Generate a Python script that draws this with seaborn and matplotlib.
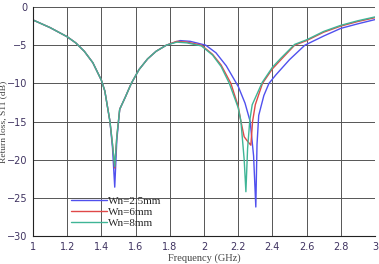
import numpy as np
import pandas as pd
import matplotlib
matplotlib.use("Agg")
import matplotlib.pyplot as plt
import seaborn as sns

# Frequency (GHz) and return loss S11 (dB)
freq_blue = [1.0, 1.05, 1.1, 1.15, 1.2, 1.25, 1.3, 1.35, 1.4, 1.42, 1.45, 1.465, 1.478, 1.49, 1.507, 1.54,
             1.575, 1.62, 1.67, 1.72, 1.78, 1.86, 1.92, 2.01, 2.07, 2.13, 2.2, 2.24, 2.27, 2.29, 2.303,
             2.31, 2.32, 2.35, 2.38, 2.42, 2.5, 2.59, 2.7, 2.8, 2.9, 3.0]
s11_blue = [-1.7, -2.2, -2.7, -3.3, -3.9, -4.7, -5.8, -7.3, -9.6, -11.0, -15.0, -18.5, -23.6, -17.5, -13.4, -11.8,
            -10.0, -8.2, -6.8, -5.8, -5.0, -4.4, -4.5, -5.0, -6.0, -7.7, -10.4, -12.6, -15.0, -19.5, -26.2,
            -18.0, -14.2, -11.6, -10.0, -8.9, -6.9, -5.0, -3.8, -2.8, -2.2, -1.65]

freq_red = [1.0, 1.05, 1.1, 1.15, 1.2, 1.25, 1.3, 1.35, 1.4, 1.42, 1.45, 1.465, 1.478, 1.49, 1.507, 1.54,
            1.575, 1.62, 1.67, 1.72, 1.78, 1.84, 1.9, 1.985, 2.05, 2.1, 2.157, 2.2, 2.216, 2.235, 2.255,
            2.274, 2.284, 2.3, 2.342, 2.4, 2.45, 2.53, 2.6, 2.7, 2.8, 2.9, 3.0]
s11_red = [-1.7, -2.2, -2.7, -3.3, -3.9, -4.7, -5.8, -7.3, -9.6, -11.0, -15.0, -18.0, -21.1, -17.0, -13.4, -11.8,
           -10.0, -8.2, -6.8, -5.8, -5.0, -4.5, -4.6, -5.0, -6.2, -7.6, -10.0, -13.0, -15.0, -17.0, -17.6,
           -18.1, -15.0, -12.8, -10.0, -8.1, -6.9, -5.0, -4.4, -3.3, -2.5, -1.9, -1.4]

freq_green = [1.0, 1.05, 1.1, 1.15, 1.2, 1.25, 1.3, 1.35, 1.4, 1.42, 1.45, 1.465, 1.478, 1.49, 1.507, 1.54,
              1.575, 1.62, 1.67, 1.72, 1.78, 1.84, 1.9, 1.985, 2.05, 2.1, 2.148, 2.2, 2.216, 2.235, 2.245,
              2.255, 2.268, 2.282, 2.34, 2.4, 2.45, 2.53, 2.6, 2.7, 2.8, 2.9, 3.0]
s11_green = [-1.7, -2.2, -2.7, -3.3, -3.9, -4.7, -5.8, -7.3, -9.6, -11.0, -15.0, -18.0, -20.9, -17.0, -13.4, -11.8,
             -10.0, -8.2, -6.8, -5.8, -5.0, -4.6, -4.7, -5.1, -6.3, -7.8, -10.0, -13.2, -15.0, -20.0, -24.2,
             -18.5, -14.8, -12.8, -9.9, -7.9, -6.7, -4.9, -4.3, -3.2, -2.4, -1.8, -1.3]

labels = ["Wn=2.5mm", "Wn=6mm", "Wn=8mm"]
colors = ["#5050ee", "#e04848", "#3fb596"]

sns.set_style("white")

fig = plt.figure(figsize=(3.79, 2.64), dpi=100)
ax = fig.add_axes([33 / 379, 1 - 236 / 264, 342 / 379, 229 / 264])

for f, s, lab, c in zip([freq_blue, freq_red, freq_green], [s11_blue, s11_red, s11_green], labels, colors):
    sns.lineplot(x=f, y=s, ax=ax, color=c, label=lab, linewidth=1.0, sort=False)

ax.set_xlim(1, 3)
ax.set_ylim(-30, 0)
ax.set_xticks(np.arange(1, 3.01, 0.2))
ax.set_xticklabels(["1", "1.2", "1.4", "1.6", "1.8", "2", "2.2", "2.4", "2.6", "2.8", "3"])
ax.set_yticks(np.arange(-30, 1, 5))
ax.grid(True, color="#555555", linewidth=0.7)
for side in ["top", "right"]:
    ax.spines[side].set_visible(False)
for side in ["left", "bottom"]:
    ax.spines[side].set_color("#222222")
    ax.spines[side].set_linewidth(0.8)

ax.tick_params(labelsize=7, colors="#3e3260", length=2, pad=2)
ax.set_xlabel("Frequency (GHz)", family="Liberation Serif", fontsize=7.5, color="#444444", labelpad=1)
ax.set_ylabel("Return loss, S11 (dB)", family="Liberation Serif", fontsize=6.8, color="#444444")
ax.yaxis.set_label_coords(-0.076, 0.5)

ax.legend(loc="lower left", bbox_to_anchor=(0.085, -0.005), frameon=False,
          prop={"family": "Liberation Serif", "size": 8}, handlelength=3.2,
          handletextpad=0.1, labelspacing=0.12, borderpad=0.3)

fig.savefig("out.png", dpi=100)
